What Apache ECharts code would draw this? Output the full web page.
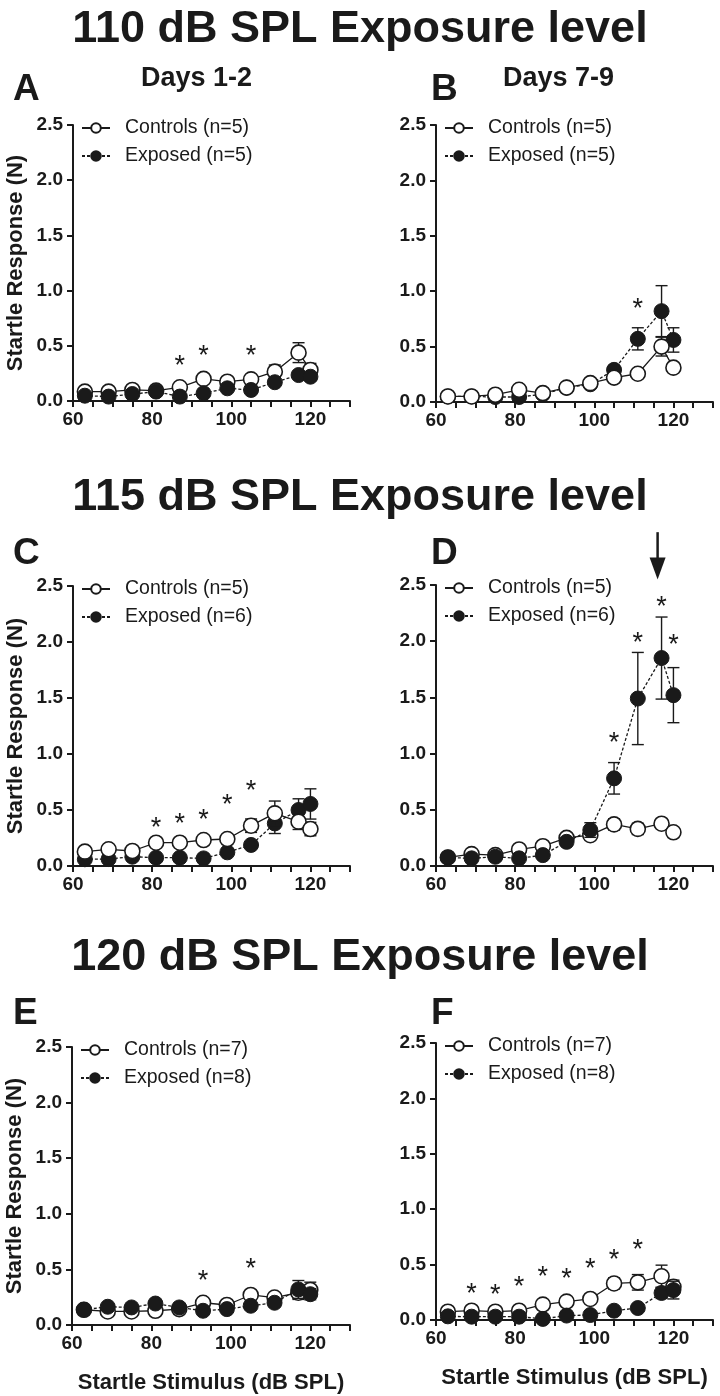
<!DOCTYPE html>
<html><head><meta charset="utf-8">
<script src="https://cdn.jsdelivr.net/npm/echarts@6/dist/echarts.min.js"></script>
<style>html,body{margin:0;padding:0;background:#fff}#c{width:720px;height:1396px}</style>
</head><body><div id="c"></div>
<script>
// ---------- DATA ----------
const stimulus = [63, 69, 75, 81, 87, 93, 99, 105, 111, 117, 120];
const xTickLabels = [60, 80, 100, 120];
const yTickLabels = [0, 0.5, 1.0, 1.5, 2.0, 2.5];

const sectionTitles = ['110 dB SPL Exposure level', '115 dB SPL Exposure level', '120 dB SPL Exposure level'];
const panelLetters = ['A', 'B', 'C', 'D', 'E', 'F'];
const dayLabels = ['Days 1-2', 'Days 7-9'];

// Panel A (110 dB, days 1-2)
const aCtrl    = [0.085, 0.085, 0.10, 0.094, 0.124, 0.20, 0.175, 0.196, 0.266, 0.438, 0.281];
const aCtrlErr = [0.02, 0.02, 0.02, 0.02, 0.02, 0.03, 0.02, 0.03, 0.06, 0.09, 0.06];
const aExp     = [0.048, 0.04, 0.063, 0.085, 0.04, 0.07, 0.115, 0.10, 0.17, 0.235, 0.22];
const aExpErr  = [0.01, 0.01, 0.01, 0.01, 0.01, 0.01, 0.02, 0.02, 0.03, 0.03, 0.03];
const aStars   = [[87, 0.38], [93, 0.47], [105, 0.47]];

// Panel B (110 dB, days 7-9)
const bCtrl    = [0.05, 0.05, 0.066, 0.11, 0.08, 0.13, 0.17, 0.22, 0.255, 0.50, 0.31];
const bCtrlErr = [0.01, 0.01, 0.02, 0.02, 0.02, 0.02, 0.02, 0.02, 0.03, 0.085, 0.03];
const bExp     = [0.05, 0.05, 0.045, 0.045, 0.07, 0.13, 0.16, 0.29, 0.57, 0.82, 0.56];
const bExpErr  = [0.01, 0.01, 0.01, 0.01, 0.02, 0.02, 0.02, 0.04, 0.10, 0.23, 0.11];
const bStars   = [[111, 0.90]];

// Panel C (115 dB, days 1-2)
const cCtrl    = [0.128, 0.149, 0.134, 0.208, 0.208, 0.232, 0.241, 0.36, 0.47, 0.396, 0.33];
const cCtrlErr = [0.02, 0.02, 0.02, 0.02, 0.02, 0.02, 0.02, 0.06, 0.11, 0.07, 0.06];
const cExp     = [0.06, 0.062, 0.083, 0.074, 0.074, 0.068, 0.122, 0.188, 0.38, 0.50, 0.554];
const cExpErr  = [0.01, 0.01, 0.01, 0.01, 0.01, 0.01, 0.02, 0.02, 0.09, 0.10, 0.135];
const cStars   = [[81, 0.40], [87, 0.43], [93, 0.47], [99, 0.60], [105, 0.73]];

// Panel D (115 dB, days 7-9)
const dCtrl    = [0.076, 0.106, 0.097, 0.147, 0.176, 0.25, 0.274, 0.37, 0.33, 0.376, 0.30];
const dCtrlErr = [0.01, 0.02, 0.02, 0.02, 0.02, 0.03, 0.03, 0.05, 0.05, 0.02, 0.02];
const dExp     = [0.076, 0.068, 0.082, 0.068, 0.097, 0.215, 0.32, 0.78, 1.49, 1.85, 1.52];
const dExpErr  = [0.01, 0.01, 0.02, 0.01, 0.02, 0.03, 0.065, 0.14, 0.41, 0.365, 0.245];
const dStars   = [[105, 1.155], [111, 2.045], [117, 2.36], [120, 2.02]];
const dArrow   = [[116, 2.97, 2.55]];

// Panel E (120 dB, days 1-2)
const eCtrl    = [0.137, 0.122, 0.122, 0.128, 0.143, 0.20, 0.18, 0.27, 0.247, 0.29, 0.315];
const eCtrlErr = [0.01, 0.01, 0.01, 0.01, 0.01, 0.02, 0.02, 0.02, 0.02, 0.06, 0.07];
const eExp     = [0.137, 0.164, 0.158, 0.193, 0.158, 0.128, 0.143, 0.173, 0.20, 0.32, 0.277];
const eExpErr  = [0.01, 0.01, 0.01, 0.01, 0.01, 0.01, 0.01, 0.01, 0.02, 0.08, 0.05];
const eStars   = [[93, 0.455], [105, 0.565]];

// Panel F (120 dB, days 7-9)
const fCtrl    = [0.075, 0.084, 0.075, 0.084, 0.139, 0.166, 0.19, 0.33, 0.34, 0.395, 0.30];
const fCtrlErr = [0.01, 0.01, 0.01, 0.01, 0.01, 0.01, 0.01, 0.05, 0.07, 0.10, 0.06];
const fExp     = [0.033, 0.03, 0.03, 0.03, 0.01, 0.04, 0.045, 0.084, 0.108, 0.244, 0.27];
const fExpErr  = [0.005, 0.005, 0.005, 0.005, 0.005, 0.005, 0.005, 0.01, 0.01, 0.05, 0.08];
const fStars   = [[69, 0.295], [75, 0.28], [81, 0.355], [87, 0.446], [93, 0.43], [99, 0.52], [105, 0.60], [111, 0.687]];

const ctrlNames = ['Controls (n=5)', 'Controls (n=5)', 'Controls (n=5)', 'Controls (n=5)', 'Controls (n=7)', 'Controls (n=7)'];
const expNames  = ['Exposed (n=5)', 'Exposed (n=5)', 'Exposed (n=6)', 'Exposed (n=6)', 'Exposed (n=8)', 'Exposed (n=8)'];
const yAxisTitle = 'Startle Response (N)';
const xAxisTitle = 'Startle Stimulus (dB SPL)';

// ---------- LAYOUT / STYLE ----------
const FONT = "'Liberation Sans', Arial, Helvetica, sans-serif";
const INK = '#1a1a1a';
const panels = [
  {ctrl: aCtrl, ctrlErr: aCtrlErr, exp: aExp, expErr: aExpErr, stars: aStars, ctrlTop: false},
  {ctrl: bCtrl, ctrlErr: bCtrlErr, exp: bExp, expErr: bExpErr, stars: bStars, ctrlTop: true},
  {ctrl: cCtrl, ctrlErr: cCtrlErr, exp: cExp, expErr: cExpErr, stars: cStars, ctrlTop: true},
  {ctrl: dCtrl, ctrlErr: dCtrlErr, exp: dExp, expErr: dExpErr, stars: dStars, ctrlTop: false, arrow: dArrow},
  {ctrl: eCtrl, ctrlErr: eCtrlErr, exp: eExp, expErr: eExpErr, stars: eStars, ctrlTop: false},
  {ctrl: fCtrl, ctrlErr: fCtrlErr, exp: fExp, expErr: fExpErr, stars: fStars, ctrlTop: false}
];
const layout = [
  {left: 73,  top: 125,  width: 277, height: 276, yName: true,  xName: false},
  {left: 436, top: 125,  width: 277, height: 277, yName: false, xName: false},
  {left: 73,  top: 586,  width: 277, height: 280, yName: true,  xName: false},
  {left: 436, top: 585,  width: 277, height: 281, yName: false, xName: false},
  {left: 72,  top: 1047, width: 278, height: 278, yName: true,  xName: true},
  {left: 436, top: 1043, width: 277, height: 277, yName: false, xName: true}
];

function errRender(params, api) {
  const x = api.value(0), m = api.value(1), e = api.value(2);
  const t = api.coord([x, m + e]), b = api.coord([x, m - e]);
  const hw = 6;
  const style = {stroke: INK, lineWidth: 1.4};
  return {type: 'group', children: [
    {type: 'line', shape: {x1: t[0], y1: t[1], x2: b[0], y2: b[1]}, style},
    {type: 'line', shape: {x1: t[0] - hw, y1: t[1], x2: t[0] + hw, y2: t[1]}, style},
    {type: 'line', shape: {x1: b[0] - hw, y1: b[1], x2: b[0] + hw, y2: b[1]}, style}
  ]};
}
function starRender(params, api) {
  const p = api.coord([api.value(0), api.value(1)]);
  return {type: 'text', x: p[0], y: p[1] + 7, style: {text: '*', fontSize: 27, fontFamily: FONT, fill: INK, align: 'center', verticalAlign: 'middle'}};
}
function arrowRender(params, api) {
  const x = api.value(0);
  const p1 = api.coord([x, api.value(1)]), p2 = api.coord([x, api.value(2)]);
  const head = 22, hw = 8;
  return {type: 'group', children: [
    {type: 'line', shape: {x1: p1[0], y1: p1[1], x2: p2[0], y2: p2[1] - head + 2}, style: {stroke: INK, lineWidth: 2.5}},
    {type: 'polygon', shape: {points: [[p2[0] - hw, p2[1] - head], [p2[0] + hw, p2[1] - head], [p2[0], p2[1]]]}, style: {fill: INK}}
  ]};
}

const grids = [], xAxes = [], yAxes = [], series = [], legends = [], titles = [];
layout.forEach((L, i) => {
  grids.push({left: L.left, top: L.top, width: L.width, height: L.height});
  xAxes.push({
    type: 'value', gridIndex: i, min: 60, max: 130, interval: 5,
    name: L.xName ? xAxisTitle : '', nameLocation: 'middle', nameGap: 47,
    nameTextStyle: {fontFamily: FONT, fontWeight: 'bold', fontSize: 22, color: INK},
    axisLine: {lineStyle: {color: INK, width: 2}},
    axisTick: {length: 6, lineStyle: {color: INK, width: 2}},
    axisLabel: {fontFamily: FONT, fontWeight: 'bold', fontSize: 19, color: INK, margin: 9,
      formatter: v => xTickLabels.indexOf(v) >= 0 ? String(v) : ''},
    splitLine: {show: false}
  });
  yAxes.push({
    type: 'value', gridIndex: i, min: 0, max: 2.5, interval: 0.5,
    name: L.yName ? yAxisTitle : '', nameLocation: 'middle', nameGap: 46, nameRotate: 90,
    nameTextStyle: {fontFamily: FONT, fontWeight: 'bold', fontSize: 22, color: INK},
    axisLine: {lineStyle: {color: INK, width: 2}},
    axisTick: {length: 6, lineStyle: {color: INK, width: 2}},
    axisLabel: {fontFamily: FONT, fontWeight: 'bold', fontSize: 19, color: INK, margin: 10,
      formatter: v => yTickLabels.indexOf(v) >= 0 ? v.toFixed(1) : ''},
    splitLine: {show: false}
  });
  const P = panels[i];
  const zc = P.ctrlTop ? 6 : 4, ze = P.ctrlTop ? 4 : 6;
  series.push({type: 'custom', xAxisIndex: i, yAxisIndex: i, renderItem: errRender, z: zc - 1, silent: true,
    data: stimulus.map((x, j) => [x, P.ctrl[j], P.ctrlErr[j]]), encode: {x: 0, y: 1}});
  series.push({type: 'custom', xAxisIndex: i, yAxisIndex: i, renderItem: errRender, z: ze - 1, silent: true,
    data: stimulus.map((x, j) => [x, P.exp[j], P.expErr[j]]), encode: {x: 0, y: 1}});
  series.push({type: 'line', name: ctrlNames[i], xAxisIndex: i, yAxisIndex: i, z: zc,
    data: stimulus.map((x, j) => [x, P.ctrl[j]]),
    symbol: 'circle', symbolSize: 15,
    lineStyle: {color: INK, width: 1.3, type: 'solid'},
    itemStyle: {color: '#ffffff', borderColor: INK, borderWidth: 1.6},
    animation: false});
  series.push({type: 'line', name: expNames[i], xAxisIndex: i, yAxisIndex: i, z: ze,
    data: stimulus.map((x, j) => [x, P.exp[j]]),
    symbol: 'circle', symbolSize: 15,
    lineStyle: {color: INK, width: 1.3, type: [3, 2]},
    itemStyle: {color: INK, borderColor: INK, borderWidth: 1},
    animation: false});
  series.push({type: 'custom', xAxisIndex: i, yAxisIndex: i, renderItem: starRender, z: 8, silent: true,
    data: P.stars, encode: {x: 0, y: 1}});
  if (P.arrow) {
    series.push({type: 'custom', xAxisIndex: i, yAxisIndex: i, renderItem: arrowRender, z: 8, silent: true, clip: false,
      data: P.arrow, encode: {x: 0, y: 1}});
  }
  legends.push({
    data: [ctrlNames[i], expNames[i]], orient: 'vertical',
    left: L.left + 3, top: L.top - 12, itemWidth: 28, itemHeight: 12, itemGap: 8,
    selectedMode: false,
    textStyle: {fontFamily: FONT, fontSize: 19.5, color: INK, padding: [0, 0, 0, 10]}
  });
});

// Titles
const titleTops = [2, 470, 930];
sectionTitles.forEach((t, k) => titles.push({text: t, left: 'center', top: titleTops[k],
  textStyle: {fontFamily: FONT, fontWeight: 'bold', fontSize: 45, color: INK}}));
const letterPos = [[8, 66], [426, 66], [8, 530], [426, 530], [8, 990], [426, 990]];
panelLetters.forEach((t, k) => titles.push({text: t, left: letterPos[k][0], top: letterPos[k][1],
  textStyle: {fontFamily: FONT, fontWeight: 'bold', fontSize: 37, color: INK}}));
const dayPos = [[136, 60], [498, 60]];
dayLabels.forEach((t, k) => titles.push({text: t, left: dayPos[k][0], top: dayPos[k][1],
  textStyle: {fontFamily: FONT, fontWeight: 'bold', fontSize: 27, color: INK}}));

const chart = echarts.init(document.getElementById('c'), null, {renderer: 'canvas'});
chart.setOption({
  backgroundColor: '#ffffff',
  animation: false,
  title: titles,
  legend: legends,
  grid: grids,
  xAxis: xAxes,
  yAxis: yAxes,
  series: series
});
</script>
</body></html>
